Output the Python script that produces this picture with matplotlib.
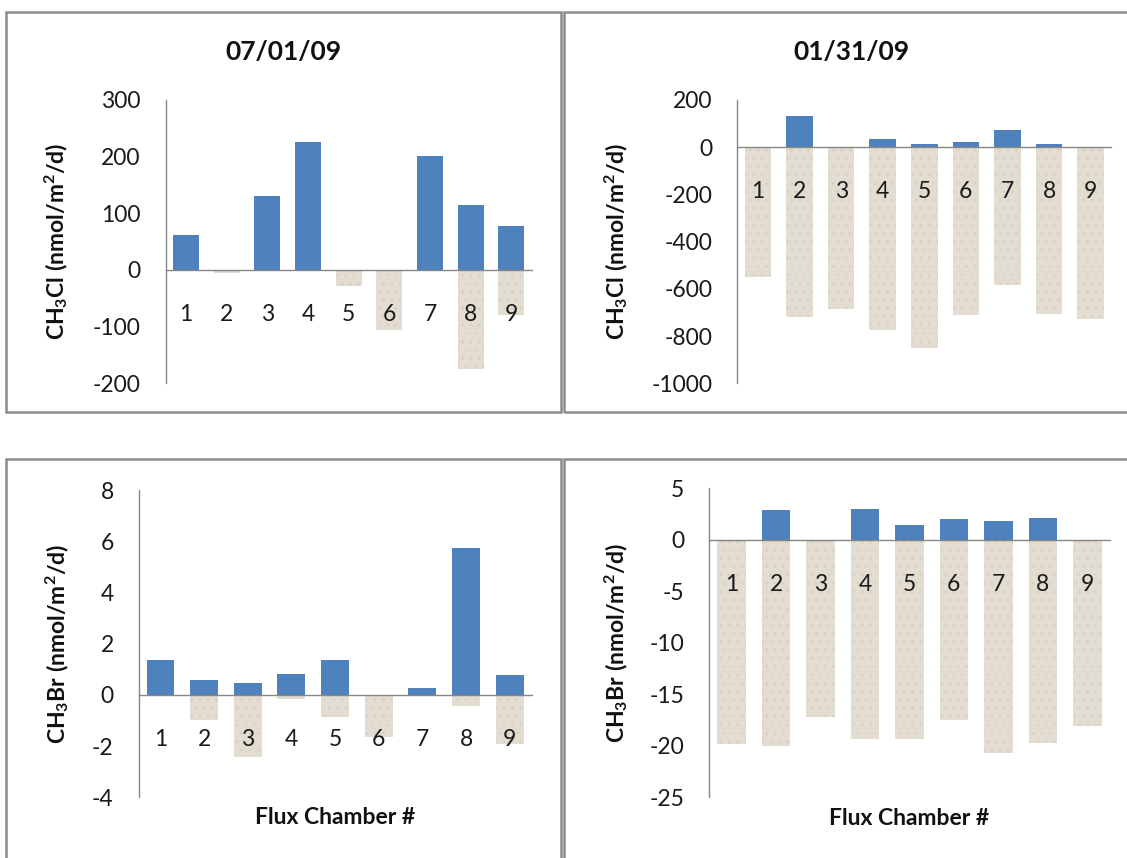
import matplotlib
matplotlib.use("Agg")
import matplotlib.pyplot as plt
from matplotlib.patches import Rectangle

plt.rcParams['font.family'] = ['Lato', 'DejaVu Sans']
plt.rcParams['mathtext.default'] = 'regular'
plt.rcParams['hatch.linewidth'] = 0.6

W, H = 1127, 858
DPI = 100

categories = ['1', '2', '3', '4', '5', '6', '7', '8', '9']

# Panel A: CH3Cl 07/01/09
ch3cl_jul_pos = [62, 0, 131, 226, 0, 0, 201, 115, 78]
ch3cl_jul_neg = [0, -5, 0, 0, -28, -106, 0, -175, -79]
# Panel B: CH3Cl 01/31/09
ch3cl_jan_pos = [0, 131, 0, 35, 14, 24, 72, 13, 0]
ch3cl_jan_neg = [-550, -719, -687, -774, -849, -712, -584, -708, -729]
# Panel C: CH3Br 07/01/09
ch3br_jul_pos = [1.37, 0.59, 0.47, 0.82, 1.37, 0, 0.27, 5.73, 0.77]
ch3br_jul_neg = [0, -0.98, -2.41, -0.17, -0.87, -1.65, 0, -0.42, -1.93]
# Panel D: CH3Br 01/31/09
ch3br_jan_pos = [0, 2.9, 0, 3.0, 1.39, 2.03, 1.87, 2.13, 0]
ch3br_jan_neg = [-19.86, -19.99, -17.24, -19.37, -19.37, -17.5, -20.73, -19.76, -18.08]

titles = ['07/01/09', '01/31/09']
ylabel_cl = 'CH$_3$Cl (nmol/m$^2$/d)'
ylabel_br = 'CH$_3$Br (nmol/m$^2$/d)'
xlabel = 'Flux Chamber #'

BLUE = '#4F81BD'
SAND = '#E3DCD0'
SAND_DOT = '#D8CFC2'
AXIS = '#868686'
BORDER = '#8C8C8C'

fig = plt.figure(figsize=(W / DPI, H / DPI), dpi=DPI)

def px_axes(left, right, top, bottom):
    return fig.add_axes([left / W, 1 - bottom / H, (right - left) / W, (bottom - top) / H])

# panel borders (pixel coords)
for (l, t, r, b) in [(6, 11.5, 561, 411.5), (564, 11.5, 1140, 411.5),
                     (6, 458.5, 561, 870), (564, 458.5, 1140, 870)]:
    fig.patches.append(Rectangle((l / W, 1 - b / H), (r - l) / W, (b - t) / H,
                                 transform=fig.transFigure, fill=False,
                                 edgecolor=BORDER, linewidth=1.8, zorder=0))

panels = [
    dict(box=(165.7, 531.5, 100, 383.3), pos=ch3cl_jul_pos, neg=ch3cl_jul_neg,
         ylim=(-200, 300), ticks=[-200, -100, 0, 100, 200, 300], ylabel=ylabel_cl,
         ylx=-0.300, title=titles[0], tx=283, xl=False),
    dict(box=(737.2, 1111.4, 100, 383.3), pos=ch3cl_jan_pos, neg=ch3cl_jan_neg,
         ylim=(-1000, 200), ticks=[-1000, -800, -600, -400, -200, 0, 200], ylabel=ylabel_cl,
         ylx=-0.324, title=titles[1], tx=851, xl=False),
    dict(box=(138.7, 531.5, 490, 797.3), pos=ch3br_jul_pos, neg=ch3br_jul_neg,
         ylim=(-4, 8), ticks=[-4, -2, 0, 2, 4, 6, 8], ylabel=ylabel_br,
         ylx=-0.2065, title=None, tx=None, xl=True),
    dict(box=(709.3, 1109.6, 488.3, 797.3), pos=ch3br_jan_pos, neg=ch3br_jan_neg,
         ylim=(-25, 5), ticks=[-25, -20, -15, -10, -5, 0, 5], ylabel=ylabel_br,
         ylx=-0.233, title=None, tx=None, xl=True),
]

x = list(range(len(categories)))
for p in panels:
    ax = px_axes(*p['box'])
    ax.set_facecolor('none')
    ax.bar(x, p['neg'], width=0.64, color=SAND, edgecolor=SAND_DOT, linewidth=0,
           hatch='..', zorder=1)
    ax.bar(x, p['pos'], width=0.64, color=BLUE, edgecolor='none', linewidth=0, zorder=1.5)
    ax.set_xlim(-0.5, len(categories) - 0.5)
    ax.set_ylim(*p['ylim'])
    ax.set_yticks(p['ticks'])
    ax.set_yticklabels([str(t) for t in p['ticks']])
    ax.set_xticks(x)
    ax.set_xticklabels(categories)
    for s in ['top', 'right']:
        ax.spines[s].set_visible(False)
    ax.spines['bottom'].set_position(('data', 0))
    ax.spines['bottom'].set_color(AXIS)
    ax.spines['left'].set_color(AXIS)
    ax.spines['bottom'].set_linewidth(1.0)
    ax.spines['left'].set_linewidth(1.0)
    ax.tick_params(axis='both', length=0, labelsize=16.5, colors='#1a1a1a')
    ax.tick_params(axis='x', pad=24.5)
    ax.tick_params(axis='y', pad=18)
    ax.set_ylabel(p['ylabel'], fontsize=16.5, fontweight='bold', color='#111111')
    ax.yaxis.label.set_verticalalignment('center')
    ax.yaxis.set_label_coords(p['ylx'], 0.5)
    if p['xl']:
        ax.text(0.5, -0.067, xlabel, transform=ax.transAxes, ha='center', va='center',
                fontsize=16.5, fontweight='bold', color='#111111')
    if p['title']:
        fig.text(p['tx'] / W, 1 - 52 / H, p['title'], ha='center', va='center',
                 fontsize=19, fontweight='bold', color='#111111')

fig.savefig('out.png', dpi=DPI)
